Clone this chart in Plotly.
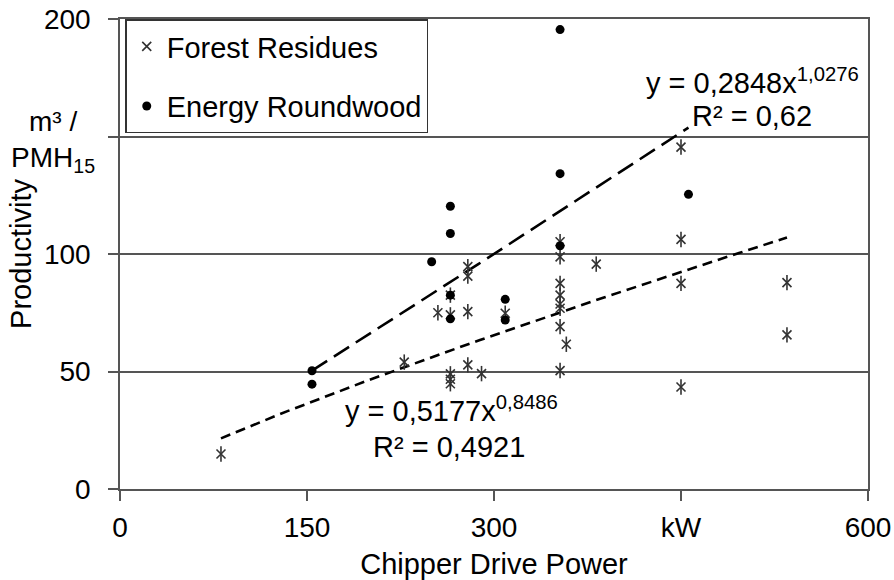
import numpy as np
import plotly.graph_objects as go

# ---- data ----
residues_kw = [81, 228, 255, 265, 265, 265, 265, 265, 279, 279, 279, 279, 290, 309,
               353, 353, 353, 353, 353, 353, 353, 358, 353, 382, 450, 450, 450, 450, 535, 535]
residues_prod = [14.9, 54.0, 75.0, 74.1, 49.0, 46.7, 44.8, 82.5, 94.6, 90.6, 75.5, 52.8, 49.1, 74.8,
                 105.2, 98.8, 87.5, 82.5, 78.7, 76.9, 69.1, 61.6, 50.4, 95.7, 145.5, 106.2, 87.5, 43.4, 87.8, 65.6]

roundwood_kw = [154, 154, 250, 265, 265, 265, 265, 309, 309, 353, 353, 353, 456]
roundwood_prod = [50.3, 44.6, 96.7, 120.3, 108.7, 82.5, 72.4, 80.7, 71.9, 195.5, 134.2, 103.5, 125.4]

# power trend lines as printed on the chart: y = a * x^b
residues_fit = (0.5177, 0.8486)
roundwood_fit = (0.2848, 1.0276)

x_tickvals = [0, 150, 300, 450, 600]
x_ticktext = ["0", "150", "300", "kW", "600"]
y_tickvals = [0, 50, 100, 150, 200]
y_ticktext = ["0", "50", "100", "", "200"]

FONT = "Arial, Liberation Sans, sans-serif"
MARK = "#333333"


def trend(xs, coef):
    a, b = coef
    xx = np.linspace(min(xs), max(xs), 60)
    return xx, a * xx ** b


fig = go.Figure()

rx, ry = trend(residues_kw, residues_fit)
wx, wy = trend(roundwood_kw, roundwood_fit)

fig.add_trace(go.Scatter(x=wx, y=wy, mode="lines", showlegend=False, hoverinfo="skip",
                         line=dict(color="black", width=2.6, dash="18px,8px")))
fig.add_trace(go.Scatter(x=rx, y=ry, mode="lines", showlegend=False, hoverinfo="skip",
                         line=dict(color="black", width=2.6, dash="10px,6px")))

fig.add_trace(go.Scatter(x=residues_kw, y=residues_prod, mode="markers", name="Forest Residues",
                         legendgroup="r",
                         marker=dict(symbol="x-thin-open", size=9, color=MARK,
                                     line=dict(color=MARK, width=1.6))))
fig.add_trace(go.Scatter(x=residues_kw, y=residues_prod, mode="markers", showlegend=False,
                         legendgroup="r", hoverinfo="skip",
                         marker=dict(symbol="line-ns-open", size=11, color=MARK,
                                     line=dict(color=MARK, width=1.6))))
fig.add_trace(go.Scatter(x=roundwood_kw, y=roundwood_prod, mode="markers", name="Energy Roundwood",
                         legendgroup="w",
                         marker=dict(symbol="circle", size=9, color="black")))

ann_font = dict(family=FONT, size=29, color="black")
annotations = [
    dict(x=507, y=173.5, xref="x", yref="y", text="y = 0,2848x<sup>1,0276</sup>",
         showarrow=False, font=ann_font, xanchor="center", yanchor="middle"),
    dict(x=507, y=158.8, xref="x", yref="y", text="R² = 0,62", showarrow=False, font=ann_font,
         xanchor="center", yanchor="middle"),
    dict(x=266, y=34.0, xref="x", yref="y", text="y = 0,5177x<sup>0,8486</sup>",
         showarrow=False, font=ann_font, xanchor="center", yanchor="middle"),
    dict(x=264, y=17.8, xref="x", yref="y", text="R² = 0,4921", showarrow=False, font=ann_font,
         xanchor="center", yanchor="middle"),
    dict(x=-0.089, y=0.7815, xref="paper", yref="paper", text="m³ /", showarrow=False,
         xanchor="center", yanchor="middle", font=dict(family=FONT, size=28, color="black")),
    dict(x=-0.089, y=0.702, xref="paper", yref="paper", text="PMH<sub>15</sub>", showarrow=False,
         xanchor="center", yanchor="middle", font=dict(family=FONT, size=28, color="black")),
]

fig.update_layout(
    width=894, height=580,
    margin=dict(l=120, r=26, t=19, b=91),
    paper_bgcolor="white", plot_bgcolor="white",
    font=dict(family=FONT, size=28, color="black"),
    showlegend=True,
    legend=dict(x=0.007, y=0.999, xanchor="left", yanchor="top",
                bgcolor="white", bordercolor="#333333", borderwidth=1.5,
                font=dict(family=FONT, size=29, color="black"),
                traceorder="grouped", tracegroupgap=19),
    annotations=annotations,
    xaxis=dict(range=[0, 600], tickvals=x_tickvals, ticktext=x_ticktext, automargin=False,
               showgrid=False, zeroline=False, showline=True, linecolor="#555555",
               linewidth=1.5, mirror=True, ticks="outside", ticklen=10, tickcolor="#555555",
               tickwidth=1.5, ticklabelstandoff=3, ticklabeloverflow="allow",
               tickfont=dict(family=FONT, size=28, color="black"),
               title=dict(text="Chipper Drive Power", font=dict(family=FONT, size=29, color="black"),
                          standoff=18)),
    yaxis=dict(range=[0, 200], tickvals=y_tickvals, ticktext=y_ticktext, automargin=False,
               showgrid=True, gridcolor="#555555", gridwidth=1.5, zeroline=False,
               showline=True, linecolor="#555555", linewidth=1.5, mirror=True,
               ticks="outside", ticklen=10, tickcolor="#555555", tickwidth=1.5,
               ticklabelstandoff=12, ticklabeloverflow="allow",
               tickfont=dict(family=FONT, size=28, color="black"),
               title=dict(text="Productivity", font=dict(family=FONT, size=29, color="black"),
                          standoff=4)),
)

# remove the default 8px page margin so the 894x580 figure fills the window exactly
page_fix = ("document.body.style.margin='0';"
            "document.body.style.overflow='hidden';"
            "document.documentElement.style.overflow='hidden';")

fig.write_html("out.html", post_script=page_fix, config={"displayModeBar": False})
